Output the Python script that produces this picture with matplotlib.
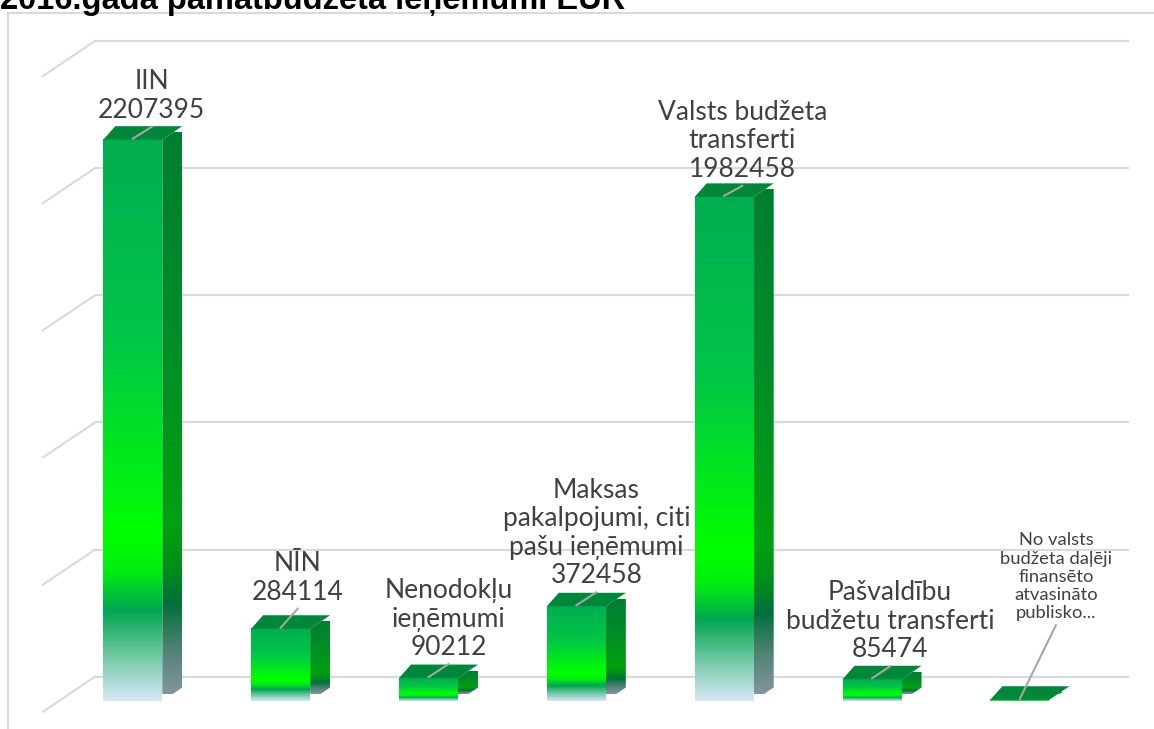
import numpy as np
import matplotlib
matplotlib.use('Agg')
import matplotlib.pyplot as plt
from matplotlib.patches import Polygon, Rectangle
from matplotlib.colors import LinearSegmentedColormap

##################################### data
title = '2016.gada pamatbudžeta ieņēmumi EUR'
categories = ['IIN', 'NĪN', 'Nenodokļu\nieņēmumi', 'Maksas\npakalpojumi, citi\npašu ieņēmumi',
              'Valsts budžeta\ntransferti', 'Pašvaldību\nbudžetu transferti',
              'No valsts\nbudžeta daļēji\nfinansēto\natvasināto\npublisko...']
values = [2207395, 284114, 90212, 372458, 1982458, 85474, 5000]
show_value = [True, True, True, True, True, True, False]
grid_values = [0, 500000, 1000000, 1500000, 2000000, 2500000]
#####################################

##################################### layout (pixels)
W, H = 1154, 729
X0, STEP = 132.8, 147.85      # centre of first bar, distance between bars
Y0, SCALE = 701, 0.0002543    # baseline (px from top), px per EUR
ux, uy = 1 / STEP, 1 / SCALE   # one pixel in data units

hw = 29.5 * ux      # half width of front face
dx = 20 * ux        # depth to the right
lo = 12 * ux        # depth of left top corner
dy = 13.5 * uy      # depth upwards

label_lift = [3.5, 10.5, 4.5, 4.5, 1.5, 3.5, 65]   # px above back top edge
label_shift = [19, 17, 20, 20, 18, 18, 36]         # px right of bar centre
label_size = [19, 19, 19, 19, 19, 19, 13.2]
#####################################

front_cmap = LinearSegmentedColormap.from_list('front', [
    (0.0, '#00AE50'), (0.35, '#00C548'), (0.70, '#00FF00'), (0.77, '#00EE10'),
    (0.84, '#00A651'), (0.92, '#70C9A2'), (1.0, '#D6E6F6')])
side_cmap = LinearSegmentedColormap.from_list('side', [
    (0.0, '#007E30'), (0.35, '#008C28'), (0.70, '#00A010'), (0.77, '#009018'),
    (0.84, '#00703A'), (0.92, '#4E8274'), (1.0, '#8295A0')])
grad = np.linspace(0, 1, 256).reshape(-1, 1)

fig = plt.figure(figsize=(W / 100, H / 100), dpi=100)
ax = fig.add_axes([0, 0, 1, 1])
ax.set_xlim(-X0 / STEP, (W - X0) / STEP)
ax.set_ylim(-(H - Y0) * uy, Y0 * uy)
ax.axis('off')

# chart frame
fig.patches.append(Rectangle((8 / W, -0.1), 1.2, 1 - 13 / H + 0.1, transform=fig.transFigure,
                             fill=False, ec='#d9d9d9', lw=1.5))

# back wall gridlines + floor diagonals
wall_off = 24.3 * uy
for g in grid_values:
    ax.plot([(95 - X0) * ux, (1129 - X0) * ux], [g + wall_off, g + wall_off],
            color='#d9d9d9', lw=1.5, zorder=1, solid_capstyle='butt')
    ax.plot([(43 - X0) * ux, (95 - X0) * ux], [g - 10.7 * uy, g + wall_off],
            color='#d9d9d9', lw=1.5, zorder=1)

# bars
for i, v in enumerate(values):
    im = ax.imshow(grad, cmap=front_cmap, extent=(i - hw, i + hw, 0, v),
                   aspect='auto', interpolation='bilinear', zorder=3)
    side = Polygon([(i + hw, 0), (i + hw + dx, dy), (i + hw + dx, v + dy), (i + hw, v)],
                   closed=True, fc='none', ec='none', transform=ax.transData)
    ax.add_patch(side)
    ims = ax.imshow(grad, cmap=side_cmap, extent=(i + hw, i + hw + dx, dy * 0.5, v + dy * 0.5),
                    aspect='auto', interpolation='bilinear', zorder=3)
    ims.set_clip_path(side)
    top = Polygon([(i - hw, v), (i - hw + lo, v + dy), (i + hw + dx, v + dy), (i + hw, v)],
                  closed=True, fc='#00873A', ec='none', zorder=4)
    ax.add_patch(top)

    # data label + leader line
    lx = i + label_shift[i] * ux
    ly = v + dy + label_lift[i] * uy
    txt = categories[i] + ('\n%d' % v if show_value[i] else '')
    ax.text(lx, ly, txt, ha='center', va='bottom', fontsize=label_size[i],
            family=['Lato', 'DejaVu Sans'], color='#404040', zorder=6, linespacing=1.17)
    ax.plot([i, lx], [v + 1 * uy, ly - 4 * uy], color='#a6a6a6', lw=1.5, zorder=5)

ax.set_xlim(-X0 / STEP, (W - X0) / STEP)
ax.set_ylim(-(H - Y0) * uy, Y0 * uy)

# title, clipped by the top edge as in the source
fig.text(0.0, 1 - 9.5 / H, title, ha='left', va='baseline', fontsize=23.5, fontweight='bold',
         family=['Liberation Sans', 'DejaVu Sans'], color='black')

fig.savefig('out.png', dpi=100)
